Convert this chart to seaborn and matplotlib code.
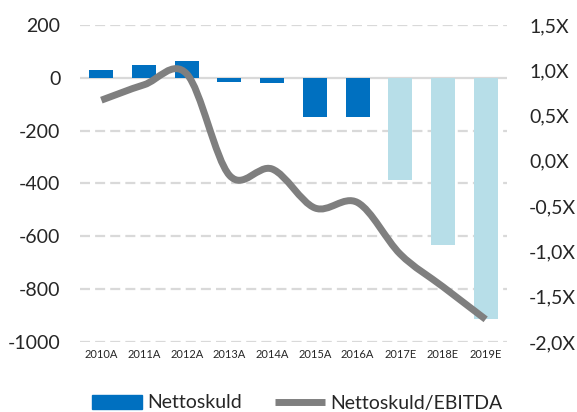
import matplotlib.pyplot as plt
import seaborn as sns
import numpy as np
import pandas as pd
from matplotlib.path import Path
from matplotlib.patches import PathPatch, Patch
from matplotlib.lines import Line2D

years = ["2010A", "2011A", "2012A", "2013A", "2014A",
         "2015A", "2016A", "2017E", "2018E", "2019E"]
kind = ["A", "A", "A", "A", "A", "A", "A", "E", "E", "E"]
nettoskuld = [30, 47, 63, -14, -21, -148, -147, -388, -631, -913]
ratio = [0.67, 0.84, 0.96, -0.16, -0.09, -0.52, -0.46, -1.03, -1.39, -1.75]

left_ticks = [200, 0, -200, -400, -600, -800, -1000]
right_ticks = [1.5, 1.0, 0.5, 0.0, -0.5, -1.0, -1.5, -2.0]
right_labels = ["1,5X", "1,0X", "0,5X", "0,0X", "-0,5X", "-1,0X", "-1,5X", "-2,0X"]

sns.set_style("white")
plt.rcParams["font.family"] = ["Lato", "DejaVu Sans"]

BLUE = "#0070C0"
LIGHT = "#B7DEE8"
GREY = "#7F7F7F"
GRID = "#D9D9D9"

df = pd.DataFrame({"year": years, "kind": kind, "value": nettoskuld})

fig = plt.figure(figsize=(5.77, 4.12), dpi=100)
ax = fig.add_axes([80 / 577, 1 - 342 / 412, 427 / 577, 317 / 412])

sns.barplot(
    data=df,
    x="year",
    y="value",
    hue="kind",
    palette={"A": BLUE, "E": LIGHT},
    saturation=1,
    dodge=False,
    width=0.56,
    legend=False,
    linewidth=0,
    ax=ax,
)
ax.set_xlim(-0.5, len(years) - 0.5)
ax.set_ylim(-1000, 200)
ax.set_yticks(left_ticks)
ax.set_yticklabels([str(t) for t in left_ticks])
for t in left_ticks:
    if t == 0:
        ax.axhline(0, color=GRID, lw=1.6, zorder=0.5)
    else:
        ax.axhline(t, color=GRID, lw=1.6, dashes=(4.5, 2.3), zorder=0.5)
ax.set_xlabel("")
ax.set_ylabel("")
ax.tick_params(axis="y", length=0, pad=14, labelsize=14)
ax.tick_params(axis="x", length=0, pad=5, labelsize=8)
for s in ax.spines.values():
    s.set_visible(False)

# right axis with the smoothed ratio line
ax2 = ax.twinx()
ax2.set_ylim(-2.0, 1.5)
ax2.set_yticks(right_ticks)
ax2.set_yticklabels(right_labels)
ax2.tick_params(axis="y", length=0, pad=16, labelsize=14)
for s in ax2.spines.values():
    s.set_visible(False)

pts = np.column_stack([np.arange(len(ratio)), ratio]).astype(float)
verts = [pts[0]]
codes = [Path.MOVETO]
n = len(pts)
for i in range(n - 1):
    p0 = pts[max(i - 1, 0)]
    p1 = pts[i]
    p2 = pts[i + 1]
    p3 = pts[min(i + 2, n - 1)]
    verts += [p1 + (p2 - p0) / 6, p2 - (p3 - p1) / 6, p2]
    codes += [Path.CURVE4] * 3
ax2.add_patch(PathPatch(Path(verts, codes), facecolor="none", edgecolor=GREY,
                        lw=5, capstyle="butt", joinstyle="round"))

handles = [Patch(color=BLUE), Line2D([], [], color=GREY, lw=5, solid_capstyle="butt")]
fig.legend(handles, ["Nettoskuld", "Nettoskuld/EBITDA"], loc="center",
           bbox_to_anchor=(297 / 577, 1 - 403 / 412), ncol=2, frameon=False,
           fontsize=14, handlelength=2.6, handletextpad=0.25, columnspacing=1.7)

plt.savefig("out.png", dpi=100)
